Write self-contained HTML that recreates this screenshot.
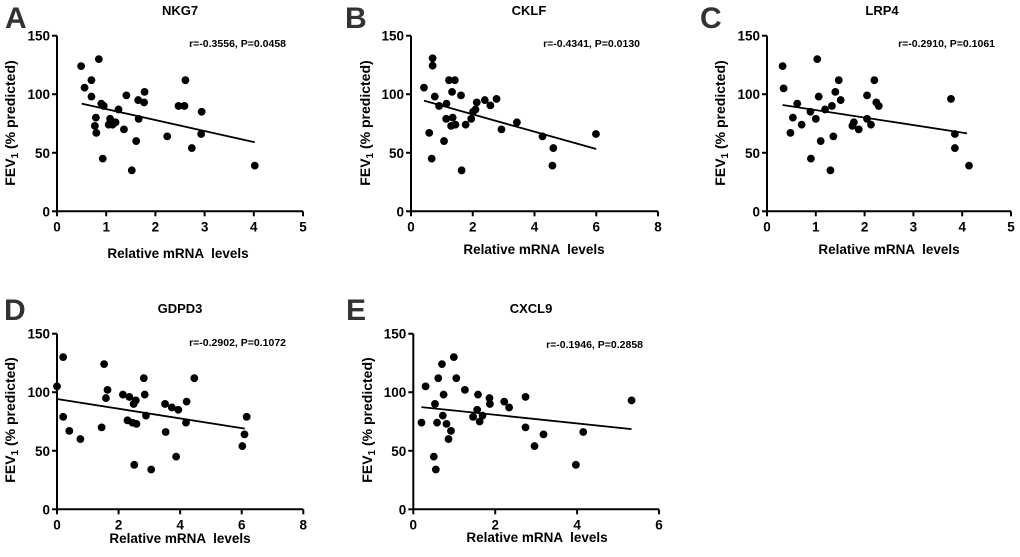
<!DOCTYPE html>
<html><head><meta charset="utf-8">
<style>
html,body{margin:0;padding:0;background:#fff;}
svg{display:block;font-family:"Liberation Sans",Arial,sans-serif;}
</style></head>
<body>
<svg id="fig" width="1020" height="557" viewBox="0 0 1020 557" xmlns="http://www.w3.org/2000/svg"></svg>
<script>
// Panel A: NKG7
const aX=[0.49,0.85,0.70,0.56,0.70,0.90,0.95,0.79,0.77,0.80,0.93,1.08,1.05,1.13,1.19,1.25,1.41,1.36,1.52,1.61,1.65,1.66,1.78,1.77,2.24,2.47,2.59,2.61,2.74,2.93,2.94,4.02];
const aY=[124,130,112,105.6,98,92,90,80,73,67,45,79,74,74,76,87,99,70,35,60,95,79,102,93,64,90,90,112,54,66,85,39];
const aLine=[0.5,92,4.02,59];
// Panel B: CKLF
const bX=[0.42,0.70,0.70,0.77,0.59,0.67,0.91,1.15,1.23,1.42,1.33,1.14,1.35,1.30,1.44,1.07,1.62,1.64,1.77,1.95,2.01,2.09,2.13,2.39,2.57,2.77,2.93,3.43,4.26,4.61,4.58,5.99];
const bY=[105.6,130.7,124.4,98,67,45,90,92,112,112,102,79,80,73,74,60,99,35,74,79,85,87,93,95,90.5,96,70,76,64,54,39,66];
const bLine=[0.42,94.5,6.0,53.2];
// Panel C: LRP4
const cX=[0.32,0.34,0.48,0.53,0.62,0.71,0.89,0.90,1.00,1.03,1.06,1.10,1.19,1.30,1.33,1.36,1.40,1.47,1.51,1.75,1.78,1.88,2.05,2.05,2.13,2.20,2.24,2.29,3.77,3.85,3.85,4.14];
const cY=[124,105,67,80,92,74,85,45,79,130,98,60,87,35,90,64,102,112,95,73,76,70,99,79,74,112,93,90,96,66,54,39];
const cLine=[0.32,90.8,4.1,66.6];
// Panel D: GDPD3
const dX=[0,0.20,0.20,0.40,0.76,1.45,1.53,1.59,1.64,2.14,2.35,2.29,2.45,2.58,2.51,2.49,2.56,2.82,2.85,2.89,3.06,3.51,3.53,3.73,3.94,3.87,4.21,4.19,4.46,6.02,6.09,6.16];
const dY=[105,130,79,67,60,70,124,95,102,98,96,76,74,73,38,90,93,112,98,80,34,90,66,87,85,45,92,74,112,54,64,79];
const dLine=[0,94.2,6.1,68.9];
// Panel E: CXCL9
const eX=[0.20,0.30,0.50,0.55,0.53,0.58,0.61,0.70,0.72,0.74,0.81,0.86,0.92,0.99,1.05,1.26,1.46,1.56,1.58,1.62,1.69,1.86,1.87,2.22,2.34,2.74,2.74,2.96,3.18,3.97,4.15,5.33];
const eY=[74,105,45,34,90,74,112,124,80,98,73,60,67,130,112,102,79,85,98,75,80,95,90,92,87,96,70,54,64,38,66,93];
const eLine=[0.2,87.3,5.33,68.5];
const yTicks=[0,50,100,150];
const xTicksA=[0,1,2,3,4,5];
const xTicksB=[0,2,4,6,8];
const xTicksE=[0,2,4,6];

const NS="http://www.w3.org/2000/svg";
const svg=document.getElementById('fig');
function mk(tag,attrs,parent){const e=document.createElementNS(NS,tag);for(const k in attrs)e.setAttribute(k,attrs[k]);(parent||svg).appendChild(e);return e;}
function txt(s,attrs,parent){const e=mk('text',attrs,parent);e.textContent=s;return e;}

function panel(p){
  const g=mk('g',{});
  
  
  const xmax=p.xt[p.xt.length-1];
  const sx=v=>p.x0+(p.x1-p.x0)*v/xmax;
  const sy=v=>p.yb-(p.yb-p.yt)*v/150;
  const L=txt(p.letter,{x:p.lx,y:p.ly,'font-size':30,'font-weight':'bold',fill:'#333'},g);
  
  
  const T=txt(p.title,{x:p.tx,y:p.ty,'font-size':13,'font-weight':'bold','text-anchor':'middle'},g);
  
  
  const S=txt(p.stat,{x:p.sx,y:p.sy,'font-size':10.5,'font-weight':'bold','text-anchor':'end'},g);
  
  
  const ax=mk('path',{d:`M${p.x0},${p.yt}V${p.yb}H${p.x1}`,stroke:'#000','stroke-width':2,fill:'none'},g);
  
  
  yTicks.forEach(v=>{
    const y=sy(v);
    mk('line',{x1:p.x0-5,x2:p.x0,y1:y,y2:y,stroke:'#000','stroke-width':2},g);
    const t=txt(String(v),{x:p.x0-7,y:y+5,'font-size':13.5,'font-weight':'bold','text-anchor':'end'},g);
    
    
  });
  p.xt.forEach(v=>{
    const x=sx(v);
    mk('line',{x1:x,x2:x,y1:p.yb,y2:p.yb+5,stroke:'#000','stroke-width':2},g);
    const t=txt(String(v),{x:x,y:p.yb+20,'font-size':13.5,'font-weight':'bold','text-anchor':'middle'},g);
    
    
  });
  const xt=txt('Relative mRNA  levels',{x:p.xlx,y:p.xly,'font-size':13.5,'font-weight':'bold','text-anchor':'middle'},g);
  xt.style.whiteSpace='pre';
  
  
  const yt=mk('text',{transform:`translate(${p.ylx},${p.yly}) rotate(-90)`,'font-size':14,'font-weight':'bold','text-anchor':'middle'},g);
  
  
  yt.appendChild(document.createTextNode('FEV'));
  const sub=mk('tspan',{'font-size':10,dy:3},yt);sub.textContent='1';
  const rest=mk('tspan',{dy:-3},yt);rest.textContent=' (% predicted)';
  p.X.forEach((v,i)=>{
    const c=mk('circle',{cx:sx(v),cy:sy(p.Y[i]),r:3.9,fill:'#000'},g);
    
    
  });
  const ln=mk('line',{x1:sx(p.line[0]),y1:sy(p.line[1]),x2:sx(p.line[2]),y2:sy(p.line[3]),stroke:'#000','stroke-width':1.8},g);
  
  
}
panel({id:'a',letter:'A',title:'NKG7',stat:'r=-0.3556, P=0.0458',X:aX,Y:aY,line:aLine,xt:xTicksA,x0:57,x1:303,yt:35.7,yb:211.3,lx:5,ly:28,tx:180,ty:15,sx:286,sy:47,xlx:178,xly:258,ylx:15,yly:123});
panel({id:'b',letter:'B',title:'CKLF',stat:'r=-0.4341, P=0.0130',X:bX,Y:bY,line:bLine,xt:xTicksB,x0:411,x1:658,yt:35.7,yb:211.3,lx:345,ly:28,tx:529,ty:15,sx:640,sy:47,xlx:534,xly:254,ylx:370,yly:123});
panel({id:'c',letter:'C',title:'LRP4',stat:'r=-0.2910, P=0.1061',X:cX,Y:cY,line:cLine,xt:xTicksA,x0:767,x1:1011,yt:35.7,yb:211.3,lx:700,ly:28,tx:882,ty:15,sx:995,sy:47,xlx:889,xly:254,ylx:725,yly:123});
panel({id:'d',letter:'D',title:'GDPD3',stat:'r=-0.2902, P=0.1072',X:dX,Y:dY,line:dLine,xt:xTicksB,x0:57,x1:303.3,yt:333.7,yb:509.3,lx:4,ly:320,tx:180,ty:313,sx:286,sy:346,xlx:180,xly:543,ylx:15,yly:420});
panel({id:'e',letter:'E',title:'CXCL9',stat:'r=-0.1946, P=0.2858',X:eX,Y:eY,line:eLine,xt:xTicksE,x0:413.3,x1:659,yt:333.7,yb:509.3,lx:346,ly:320,tx:531,ty:313,sx:643,sy:348,xlx:537,xly:542,ylx:372,yly:420});
</script>
</body></html>
